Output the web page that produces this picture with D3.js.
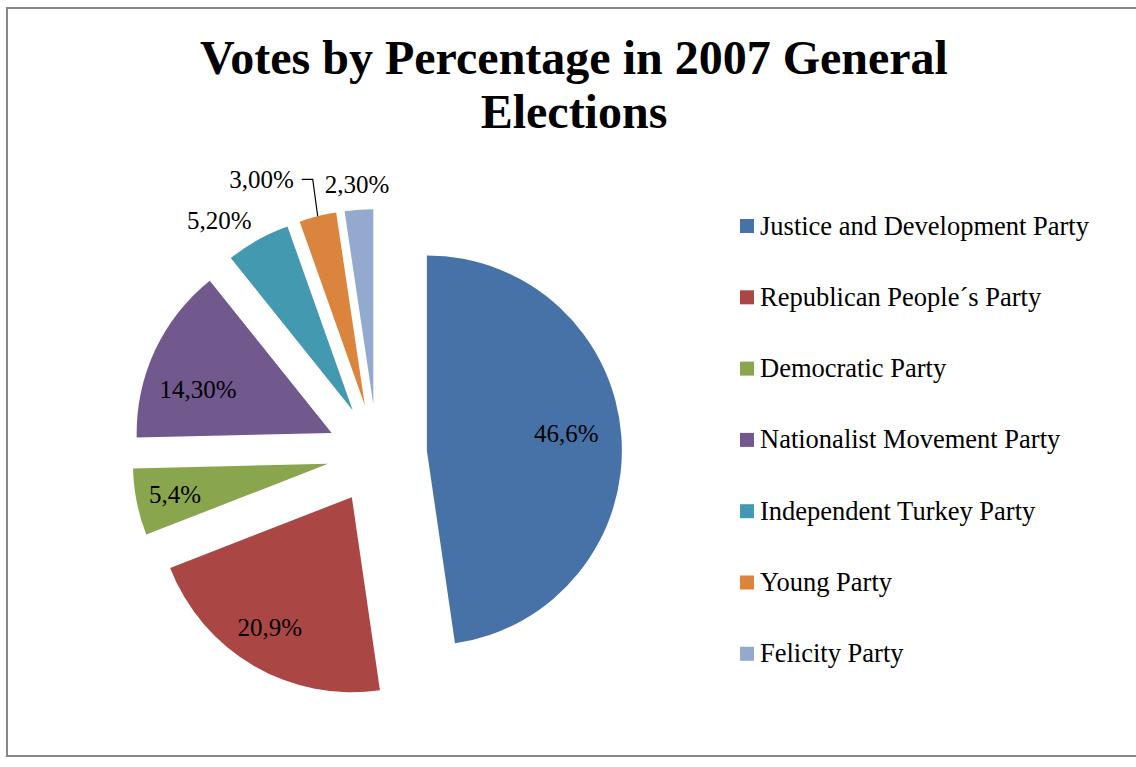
<!DOCTYPE html>
<html><head><meta charset="utf-8">
<script src="https://cdn.jsdelivr.net/npm/d3@7"></script>
<style>html,body{margin:0;padding:0;background:#fff;overflow:hidden}</style>
</head><body>
<svg id="c" width="1136" height="767"></svg>
<script>
const parties = ["Justice and Development Party","Republican People\u00b4s Party","Democratic Party","Nationalist Movement Party","Independent Turkey Party","Young Party","Felicity Party"];
const votes = [46.6, 20.9, 5.4, 14.3, 5.2, 3.0, 2.3];
const labels = ["46,6%","20,9%","5,4%","14,30%","5,20%","3,00%","2,30%"];
const colors = ["#4672A8","#AA4744","#89A54E","#71598E","#4299B0","#DB843D","#93A9CE"];
const titleLines = ["Votes by Percentage in 2007 General","Elections"];

const svg = d3.select("#c");
const font = "'Liberation Serif','Times New Roman',serif";

// border
svg.append("rect").attr("x",7).attr("y",8).attr("width",1140).attr("height",748)
  .attr("fill","none").attr("stroke","#878787").attr("stroke-width",2);

// title
svg.append("g").selectAll("text").data(titleLines).join("text")
  .attr("x",574).attr("y",(d,i)=>74+i*54)
  .attr("text-anchor","middle").attr("font-family",font).attr("font-weight","bold")
  .attr("font-size",48).text(d=>d);

// pie
const cx = 377, cy = 454, R = 195, explode = 50;
const data = parties.map((p,i)=>({party:p, value:votes[i], label:labels[i], color:colors[i]}));
const pie = d3.pie().value(d=>d.value).sort(null);
const arcs = pie(data);
const arc = d3.arc().innerRadius(0).outerRadius(R);
const mid = a => (a.startAngle + a.endAngle)/2;
const off = a => [explode*Math.sin(mid(a)), -explode*Math.cos(mid(a))];

const g = svg.append("g").attr("transform",`translate(${cx},${cy})`);
g.selectAll("path").data(arcs).join("path")
  .attr("transform",a=>{const o=off(a);return `translate(${o[0]},${o[1]})`;})
  .attr("d",arc).attr("fill",a=>a.data.color);

// label layout: radius factor and angle nudge (degrees)
const labelLayout = [[0.72,-3],[0.79,2],[0.80,0],[0.72,-7],[1.19,-6],[null,0],[1.13,0]];
arcs.forEach((a,i)=>{
  const o = off(a);
  const lay = labelLayout[i];
  if (lay[0] === null) {
    // leader-line label
    const m = mid(a);
    const p0 = [o[0]+R*Math.sin(m), o[1]-R*Math.cos(m)];
    const p1 = [p0[0]-5, p0[1]-37];
    const p2 = [p1[0]-11, p1[1]];
    g.append("polyline").attr("points",[p0,p1,p2].map(p=>p.join(",")).join(" "))
      .attr("fill","none").attr("stroke","#000").attr("stroke-width",1.2);
    g.append("text").attr("x",p2[0]-8).attr("y",p2[1]+8.5)
      .attr("text-anchor","end").attr("font-family",font).attr("font-size",25)
      .text(a.data.label);
    return;
  }
  const ang = mid(a) + lay[1]*Math.PI/180;
  const r = R*lay[0];
  const x = o[0] + r*Math.sin(ang), y = o[1] - r*Math.cos(ang);
  g.append("text").attr("x",x).attr("y",y).attr("dy","0.35em")
    .attr("text-anchor","middle").attr("font-family",font).attr("font-size",25)
    .attr("fill","#000").text(a.data.label);
});

// legend
const lg = svg.append("g").attr("transform","translate(740,226)");
const items = lg.selectAll("g").data(data).join("g")
  .attr("transform",(d,i)=>`translate(0,${i*71.3})`);
items.append("rect").attr("x",0).attr("y",-7).attr("width",14).attr("height",14).attr("fill",d=>d.color);
items.append("text").attr("x",20).attr("y",8.5).attr("font-family",font).attr("font-size",26.5)
  .attr("fill","#000").text(d=>d.party);
</script>
</body></html>
